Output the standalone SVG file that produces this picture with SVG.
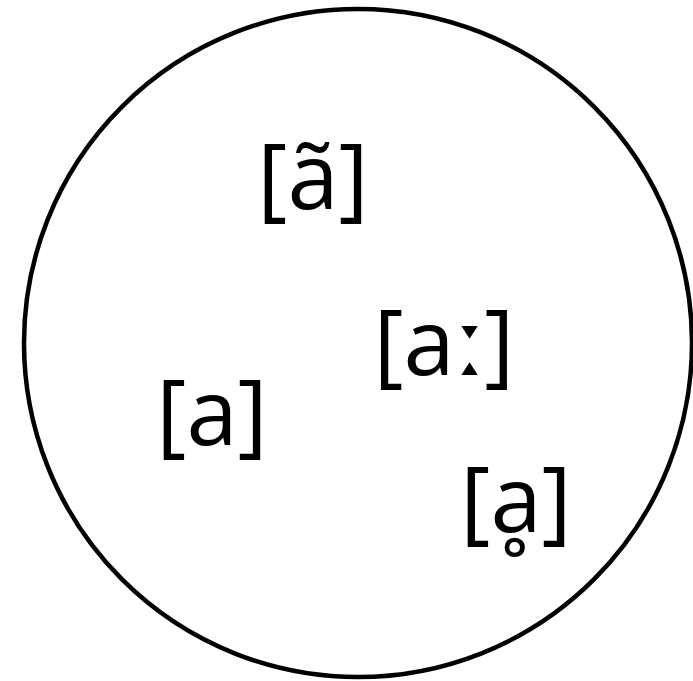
<svg xmlns="http://www.w3.org/2000/svg" width="693" height="681" viewBox="0 0 693 681">
<style>
.lbl{font-family:"Open Sans","Noto Sans","DejaVu Sans",sans-serif;font-size:92px;fill:#000;text-anchor:middle}
</style>
<rect width="693" height="681" fill="#fff"/>
<g id="set"><circle cx="358" cy="343" r="334" fill="none" stroke="#000" stroke-width="4.5"/></g>
<g id="n-nasal"><text class="lbl" x="313" y="209">[ã]</text></g>
<g id="n-long"><text class="lbl" x="444" y="375">[aː]</text></g>
<g id="n-plain"><text class="lbl" x="212" y="445">[a]</text></g>
<g id="n-voiceless"><text class="lbl" x="516" y="532">[ḁ]</text></g>
<g id="connectors"></g>
</svg>
